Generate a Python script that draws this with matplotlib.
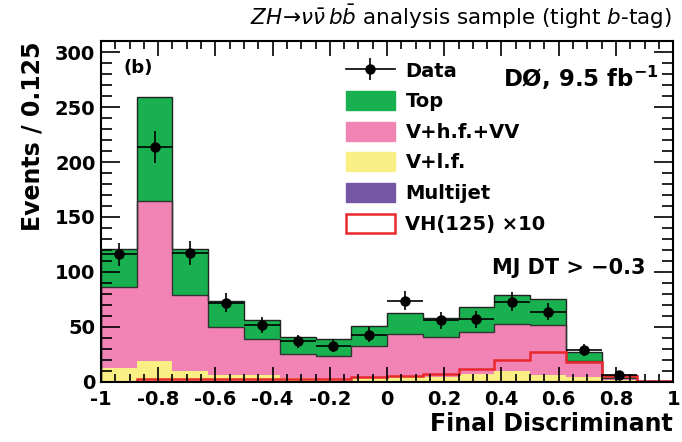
import numpy as np
import matplotlib
matplotlib.use('Agg')
import matplotlib.pyplot as plt
from matplotlib.patches import Patch
from matplotlib.lines import Line2D
from matplotlib.ticker import MultipleLocator, FuncFormatter

plt.rcParams['font.family'] = 'DejaVu Sans'
plt.rcParams['mathtext.fontset'] = 'dejavusans'
plt.rcParams['axes.unicode_minus'] = False

# bin edges of the discriminant (width 0.125)
edges = np.linspace(-1, 1, 17)

# stacked backgrounds, events per bin
multijet = [0.8, 0.8, 0.8, 0.8, 0.8, 0.8, 0.8, 0.8, 0.8, 0.8, 0.8, 0.8, 0.8, 0.8, 0.5, 0.2]
v_lf = [12.2, 18.6, 9.2, 5.6, 5.2, 2.7, 2.2, 3.2, 3.5, 3.5, 6.2, 9.2, 5.6, 3.2, 1.5, 0.1]
v_hf_vv = [73, 145, 69, 43.6, 33, 21.5, 21, 29, 39.7, 36.7, 38, 43, 45.6, 15.4, 1.5, 0.1]
top = [35, 94.5, 42, 23.5, 17, 16, 15, 18, 19, 17, 23, 26, 23.5, 8.2, 2.9, 0.1]

# VH(125) x 10 signal
signal = [0.3, 2.6, 2.6, 2.6, 2.6, 2.4, 2.2, 4.0, 5.6, 7.0, 11.5, 19.5, 27.0, 18.5, 5.6, 0.5]

# data points (first 15 bins)
data = [116, 214, 117, 72, 52, 37, 33, 43, 74, 56, 57, 73, 64, 29, 6]

c_top = '#19b04f'
c_hf = '#f283b5'
c_lf = '#f9ef84'
c_mj = '#7657a6'
c_sig = '#e8282d'

fig = plt.figure(figsize=(6.82, 4.42), dpi=100)
ax = fig.add_axes([0.148, 0.136, 0.839, 0.771])

mj_top = np.array(multijet)
lf_top = mj_top + np.array(v_lf)
hf_top = lf_top + np.array(v_hf_vv)
tot = hf_top + np.array(top)

ax.stairs(tot, edges, baseline=hf_top, fill=True, color=c_top, lw=0)
ax.stairs(hf_top, edges, baseline=lf_top, fill=True, color=c_hf, lw=0)
ax.stairs(lf_top, edges, baseline=mj_top, fill=True, color=c_lf, lw=0)
ax.stairs(mj_top, edges, baseline=0, fill=True, color=c_mj, lw=0)
ax.stairs(tot, edges, color='#222222', lw=1.0)
ax.stairs(hf_top, edges, color='#333333', lw=1.0)

ax.stairs(signal, edges, baseline=0, color=c_sig, lw=1.8)

centres = 0.5 * (edges[:-1] + edges[1:])[:len(data)]
ax.errorbar(centres, data, xerr=0.0625, yerr=np.sqrt(data), fmt='o',
            color='black', ms=6.5, elinewidth=1.2, capsize=0)

ax.set_xlim(-1, 1)
ax.set_ylim(0, 310)
ax.xaxis.set_major_locator(MultipleLocator(0.2))
ax.xaxis.set_minor_locator(MultipleLocator(0.05))
ax.xaxis.set_major_formatter(FuncFormatter(lambda v, p: '%g' % round(v, 3)))
ax.yaxis.set_major_locator(MultipleLocator(50))
ax.yaxis.set_minor_locator(MultipleLocator(10))
ax.tick_params(which='both', direction='in', top=True, right=True, width=1.2)
ax.tick_params(which='major', axis='x', length=11, labelsize=14, pad=6)
ax.tick_params(which='minor', axis='x', length=6)
ax.tick_params(which='major', axis='y', length=14, labelsize=14, pad=4)
ax.tick_params(which='minor', axis='y', length=8)
for lab in ax.get_xticklabels() + ax.get_yticklabels():
    lab.set_fontweight('bold')
for sp in ax.spines.values():
    sp.set_linewidth(1.5)

ax.set_xlabel('Final Discriminant', fontsize=17, fontweight='bold', loc='right')
ax.xaxis.set_label_coords(1.0, -0.088)
ax.xaxis.label.set_va('top')
ax.set_ylabel('Events / 0.125', fontsize=17, fontweight='bold', loc='top')
ax.yaxis.set_label_coords(-0.098, 1.0)

fig.text(0.985, 0.962, r'$ZH\!\rightarrow\!\nu\bar{\nu}\,b\bar{b}$ analysis sample (tight $b$-tag)',
         ha='right', va='center', fontsize=15.5)

ax.text(0.04, 0.921, '(b)', transform=ax.transAxes, fontsize=13, fontweight='bold',
        ha='left', va='center')
ax.text(0.974, 0.891, r'DØ, 9.5 fb$^{\mathbf{-1}}$', transform=ax.transAxes, fontsize=16.5,
        fontweight='bold', ha='right', va='center')
ax.text(0.952, 0.334, 'MJ DT > \u22120.3', transform=ax.transAxes, fontsize=15,
        fontweight='bold', ha='right', va='center')

data_handle = (Line2D([], [], color='black', lw=1.2, marker='o', ms=6.5),
               Line2D([], [], color='black', lw=0, marker='|', ms=16, mew=1.2))
handles = [data_handle,
           Patch(facecolor=c_top, edgecolor=c_top),
           Patch(facecolor=c_hf, edgecolor=c_hf),
           Patch(facecolor=c_lf, edgecolor=c_lf),
           Patch(facecolor=c_mj, edgecolor=c_mj),
           Patch(facecolor='white', edgecolor=c_sig, lw=1.8)]
labels = ['Data', 'Top', 'V+h.f.+VV', 'V+l.f.', 'Multijet', 'VH(125) \u00d710']
ax.legend(handles, labels, loc='upper left', bbox_to_anchor=(0.415, 0.966),
          frameon=False, prop={'weight': 'bold', 'size': 14},
          handlelength=2.5, handleheight=1.13, labelspacing=0.54,
          handletextpad=0.55, borderaxespad=0)

fig.savefig('out.png', dpi=100)
